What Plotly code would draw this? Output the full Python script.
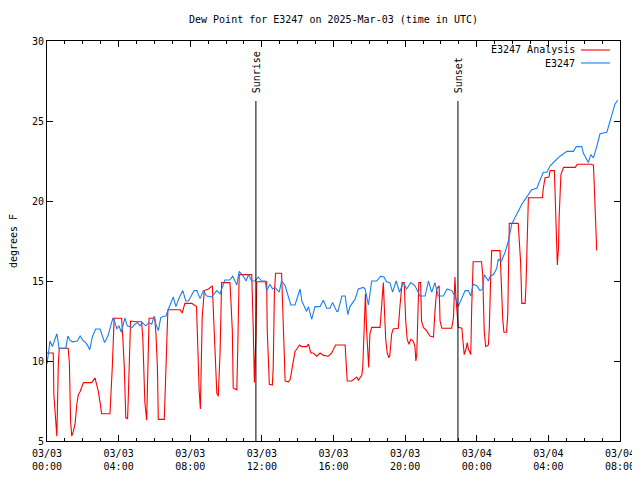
import pandas as pd
import plotly.graph_objects as go

TITLE = "Dew Point for E3247 on 2025-Mar-03 (time in UTC)"
Y_LABEL = "degrees F"
START = "2025-03-03 00:00"
END = "2025-03-04 08:00"

# E3247 observations: minutes after START, dew point (F)
obs_min = [0, 10, 18, 29, 33, 37, 40, 63, 70, 77, 85, 102, 111, 122, 130, 138, 143, 152, 163, 178,
           185, 193, 204, 213, 221, 228, 234, 241, 249, 261, 269, 286, 294, 303, 312, 319, 331, 342,
           351, 359, 365, 373, 381, 390, 398, 406, 423, 432, 443, 455, 465, 474, 493, 502, 513, 524,
           535, 552, 569, 580, 596, 613, 622, 636, 644, 658, 667, 675, 686, 697, 708, 719, 731, 736,
           747, 756, 764, 778, 786, 798, 809, 817, 831, 848, 854, 862, 870, 876, 887, 898, 915, 926,
           937, 948, 957, 971, 975, 988, 999, 1008, 1015, 1032, 1043, 1060, 1066, 1077, 1088, 1105,
           1118, 1129, 1138, 1149, 1158, 1170, 1181, 1194, 1205, 1219, 1233, 1250, 1267, 1278, 1289,
           1300, 1311, 1328, 1341, 1356, 1367, 1378, 1384, 1401, 1412, 1420, 1428, 1440, 1451, 1460,
           1465, 1479, 1485, 1496, 1507, 1512, 1523, 1535, 1546, 1557, 1568, 1579, 1591, 1602, 1613,
           1624, 1641, 1652, 1663, 1675, 1686, 1702, 1719, 1742, 1764, 1773, 1792, 1797, 1809, 1814,
           1822, 1831, 1842, 1853, 1876, 1884, 1892, 1903, 1912]
obs_val = [9.8, 11.25, 10.9, 11.56, 11.7, 11.25, 10.8, 10.8, 11.56, 11.3, 11.2, 11.25, 11.56, 11.25,
           11.15, 10.9, 10.7, 11.5, 12.0, 12.0, 11.56, 11.15, 11.56, 12.2, 12.7, 12.4, 12.0, 12.2,
           11.8, 12.7, 12.2, 12.1, 12.3, 12.4, 12.2, 12.4, 12.2, 12.4, 12.3, 12.8, 12.3, 11.9, 12.7,
           12.8, 12.8, 13.2, 14.0, 13.4, 13.95, 14.4, 13.75, 13.75, 14.4, 14.4, 13.9, 14.4, 14.06,
           14.0, 14.4, 14.2, 15.06, 15.06, 15.3, 14.75, 15.6, 15.3, 15.0, 15.4, 15.0, 15.0, 15.25,
           15.0, 15.0, 14.4, 14.8, 14.5, 14.6, 14.3, 15.0, 14.7, 14.06, 13.5, 13.5, 14.5, 13.75, 13.4,
           13.1, 13.4, 12.6, 13.4, 13.4, 13.8, 13.3, 13.3, 13.65, 13.1, 13.1, 14.06, 14.06, 12.9,
           13.4, 13.85, 14.5, 14.6, 14.5, 13.5, 15.0, 15.0, 15.3, 15.25, 14.95, 14.9, 14.3, 15.0, 14.3,
           14.9, 14.5, 14.9, 14.7, 14.06, 14.06, 15.0, 14.3, 14.9, 14.06, 14.06, 14.5, 14.4, 14.06,
           13.4, 13.65, 14.4, 14.4, 14.06, 14.8, 14.7, 14.4, 14.5, 15.4, 15.0, 15.3, 15.4, 15.8,
           16.35, 16.25, 16.8, 17.5, 18.55, 18.95, 19.4, 19.8, 20.1, 20.4, 20.7, 20.8, 21.25, 21.8,
           21.8, 22.2, 22.5, 22.8, 23.1, 23.1, 23.4, 23.4, 23.0, 22.5, 22.4, 22.9, 22.7, 23.4, 24.2,
           24.3, 24.8, 25.4, 26.05, 26.3]

# E3247 Analysis: minutes after START, dew point (F)
ana_min = [0, 21, 23, 29, 33, 38, 41, 71, 75, 79, 83, 88, 94, 100, 105, 111, 122, 150, 161, 164,
           172, 178, 183, 211, 214, 219, 225, 250, 254, 259, 264, 270, 272, 276, 280, 301, 317, 321,
           328, 334, 337, 339, 342, 361, 365, 370, 373, 393, 396, 402, 405, 446, 453, 462, 485, 501,
           503, 507, 510, 514, 516, 520, 527, 541, 554, 557, 561, 565, 569, 574, 580, 585, 613, 616,
           621, 624, 636, 639, 644, 686, 688, 691, 695, 697, 700, 703, 736, 738, 742, 745, 755, 758,
           762, 766, 786, 790, 794, 798, 809, 815, 820, 825, 831, 837, 846, 854, 870, 876, 884, 892,
           904, 915, 926, 943, 954, 967, 999, 1002, 1006, 1021, 1032, 1038, 1043, 1049, 1055, 1058,
           1062, 1067, 1071, 1075, 1078, 1082, 1088, 1116, 1122, 1127, 1130, 1135, 1140, 1146, 1149,
           1155, 1160, 1177, 1183, 1190, 1197, 1202, 1207, 1213, 1219, 1227, 1233, 1236, 1239, 1242,
           1246, 1252, 1255, 1261, 1272, 1283, 1295, 1300, 1306, 1314, 1317, 1323, 1356, 1362, 1365,
           1367, 1370, 1373, 1378, 1390, 1393, 1397, 1398, 1404, 1408, 1412, 1415, 1420, 1423, 1428,
           1456, 1460, 1465, 1470, 1479, 1482, 1487, 1490, 1518, 1523, 1527, 1531, 1540, 1544, 1548,
           1549, 1579, 1582, 1587, 1591, 1602, 1605, 1610, 1613, 1660, 1663, 1669, 1682, 1686, 1700,
           1702, 1706, 1710, 1714, 1716, 1722, 1731, 1770, 1777, 1825, 1831, 1833, 1836, 1840, 1842]
ana_val = [10.5, 10.5, 7.9, 6.25, 5.3, 9.8, 10.8, 10.8, 9.9, 6.25, 5.3, 5.6, 6.05, 7.3, 7.9, 8.1,
           8.65, 8.65, 8.95, 8.7, 8.1, 7.4, 6.7, 6.7, 7.7, 9.7, 12.67, 12.67, 11.45, 9.6, 6.45, 6.4,
           7.5, 9.6, 12.5, 12.45, 12.45, 11.45, 7.4, 6.3, 9.4, 11.6, 12.67, 12.67, 11.7, 9.6, 6.35,
           6.35, 8.0, 11.7, 13.2, 13.2, 13.0, 13.6, 13.6, 13.4, 11.9, 10.2, 8.1, 7.0, 8.95, 12.7, 14.4,
           14.5, 14.7, 13.1, 11.35, 9.2, 8.0, 7.8, 10.6, 14.9, 14.9, 13.85, 11.9, 8.3, 8.2, 10.6, 15.4,
           15.4, 14.27, 12.1, 8.65, 9.8, 11.56, 14.95, 14.95, 11.9, 9.6, 8.55, 8.5, 9.6, 14.3, 15.48,
           15.48, 12.7, 9.9, 8.75, 8.7, 8.85, 9.4, 10.1, 10.6, 10.75, 11.0, 10.9, 10.9, 11.05, 10.5,
           10.5, 10.3, 10.5, 10.35, 10.3, 10.5, 11.0, 11.0, 10.0, 8.75, 8.75, 8.9, 9.0, 8.8, 8.95, 9.1,
           9.6, 11.9, 14.2, 11.9, 10.2, 9.6, 11.7, 12.1, 12.1, 13.75, 14.9, 13.5, 11.35, 10.5, 10.2,
           10.4, 11.7, 12.0, 12.05, 13.5, 14.9, 14.9, 12.5, 11.35, 11.05, 11.35, 11.25, 10.9, 10.0,
           10.4, 11.9, 14.9, 14.9, 12.5, 12.1, 11.9, 11.56, 11.5, 13.1, 14.5, 14.7, 12.5, 12.05, 12.05,
           12.7, 14.7, 15.25, 14.0, 13.0, 12.1, 12.05, 11.25, 10.6, 10.4, 10.75, 11.15, 10.75, 10.6,
           10.4, 13.3, 16.2, 16.2, 15.4, 11.9, 10.9, 11.0, 12.0, 15.4, 16.9, 16.9, 14.4, 12.65, 11.8,
           11.8, 13.0, 17.5, 18.6, 18.6, 17.8, 16.15, 13.6, 13.6, 14.7, 18.95, 20.2, 20.2, 20.8, 21.45,
           21.5, 21.9, 21.9, 20.8, 18.95, 16.0, 17.1, 18.95, 21.65, 22.1, 22.1, 22.3, 22.3, 22.23,
           21.35, 19.6, 17.8, 16.9]

SUN_EVENTS = ["Sunrise", "Sunset"]
SUN_TIMES = ["2025-03-03 11:40", "2025-03-03 22:57"]
SUN_LINE_TOP = 26.25

X_TICKS = ["2025-03-03 00:00", "2025-03-03 04:00", "2025-03-03 08:00", "2025-03-03 12:00",
           "2025-03-03 16:00", "2025-03-03 20:00", "2025-03-04 00:00", "2025-03-04 04:00",
           "2025-03-04 08:00"]
X_TICK_TEXT = ["03/03<br>00:00", "03/03<br>04:00", "03/03<br>08:00", "03/03<br>12:00",
               "03/03<br>16:00", "03/03<br>20:00", "03/04<br>00:00", "03/04<br>04:00",
               "03/04<br>08:00"]
Y_TICKS = [5, 10, 15, 20, 25, 30]

NAMES = ["E3247 Analysis", "E3247"]
COLORS = ["#ff0000", "#1a7ff0"]

base = pd.Timestamp(START)
obs_t = base + pd.to_timedelta(obs_min, unit="m")
ana_t = base + pd.to_timedelta(ana_min, unit="m")

FONT = "DejaVu Sans Mono, Liberation Mono, monospace"
FS = 10

# the page body adds an 8px offset; the figure is sized to fit the window
W, H = 632, 472
ML, MR, MT, MB = 39, 20, 33, 39

fig = go.Figure()
fig.add_trace(go.Scatter(x=ana_t, y=ana_val, mode="lines", name=NAMES[0],
                         line=dict(color=COLORS[0], width=1.1), showlegend=False))
fig.add_trace(go.Scatter(x=obs_t, y=obs_val, mode="lines", name=NAMES[1],
                         line=dict(color=COLORS[1], width=1.1), showlegend=False))

for name, t in zip(SUN_EVENTS, SUN_TIMES):
    fig.add_shape(type="line", x0=t, x1=t, y0=Y_TICKS[0], y1=SUN_LINE_TOP, xref="x", yref="y",
                  line=dict(color="black", width=1))
    fig.add_annotation(x=t, y=SUN_LINE_TOP + 0.35, xref="x", yref="y", text=name, textangle=-90,
                       showarrow=False, xanchor="center", yanchor="bottom",
                       font=dict(family=FONT, size=FS, color="black"))

# legend drawn gnuplot-style: right aligned text, sample line on the right
for i, (name, col) in enumerate(zip(NAMES, COLORS)):
    ypix = 49 + 13 * i
    yp = 1 - (ypix - 40) / 400
    fig.add_annotation(x=(577 - 47) / 573, y=yp, xref="paper", yref="paper", text=name,
                       showarrow=False, xanchor="right", yanchor="middle",
                       font=dict(family=FONT, size=FS, color="black"))
    fig.add_shape(type="line", x0=(581 - 47) / 573, x1=(610 - 47) / 573, y0=yp, y1=yp,
                  xref="paper", yref="paper", line=dict(color=col, width=1.1))

fig.update_layout(
    width=W, height=H,
    margin=dict(l=ML, r=MR, t=MT, b=MB, autoexpand=False),
    paper_bgcolor="white", plot_bgcolor="white",
    font=dict(family=FONT, size=FS, color="black"),
    title=dict(text=TITLE, x=(333.5 - 8) / W, xanchor="center", y=1 - 11 / H, yanchor="middle",
               font=dict(family=FONT, size=FS, color="black")),
    showlegend=False,
)
fig.update_xaxes(
    type="date", range=[START, END], tickvals=X_TICKS, ticktext=X_TICK_TEXT, automargin=False,
    ticks="inside", ticklen=6, tickcolor="black", mirror="allticks", showline=True,
    linecolor="black", linewidth=1, showgrid=False, zeroline=False, ticklabelstandoff=3,
    minor=dict(dtick=3600000, ticks="inside", ticklen=3, tickcolor="black", showgrid=False),
    tickfont=dict(family=FONT, size=FS, color="black"),
)
fig.update_yaxes(
    range=[5, 30], tickvals=Y_TICKS, ticks="inside", ticklen=6, tickcolor="black",
    mirror="allticks", showline=True, linecolor="black", linewidth=1, showgrid=False,
    zeroline=False, automargin=False,
    title=dict(text=Y_LABEL, standoff=14, font=dict(family=FONT, size=FS)),
    tickfont=dict(family=FONT, size=FS, color="black"),
)

fig.write_html("out.html")
